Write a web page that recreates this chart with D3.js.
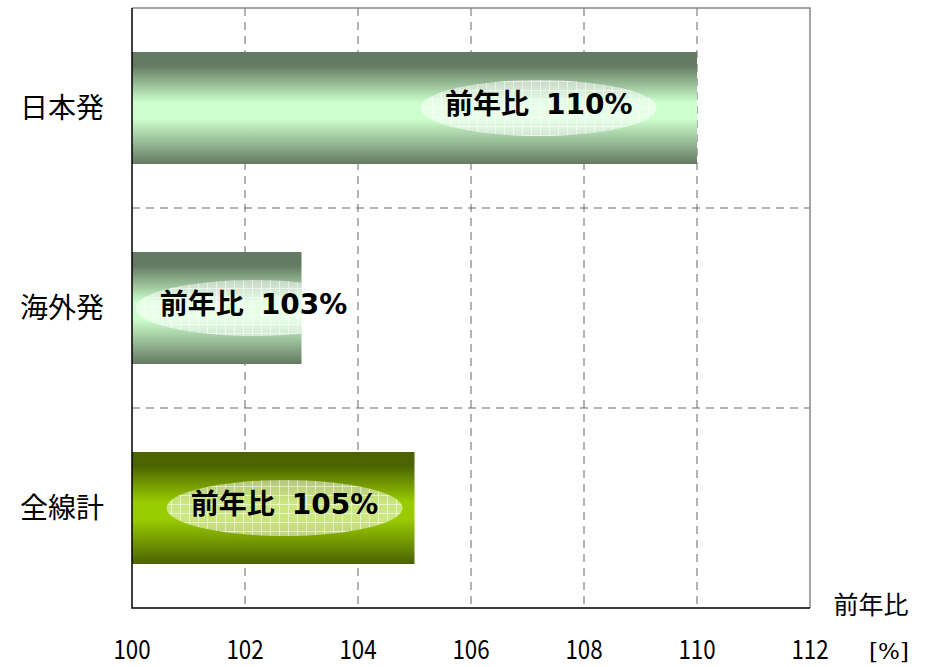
<!DOCTYPE html>
<html>
<head>
<meta charset="utf-8">
<script src="https://cdn.jsdelivr.net/npm/d3@7"></script>
<style>
  body { margin: 0; background: #fff; }
  text { font-family: "Noto Sans CJK JP", sans-serif; }
</style>
</head>
<body>
<div id="chart"></div>
<script>
// データ
const categories = ["日本発", "海外発", "全線計"];
const values = [110, 103, 105];
const labelAt = [107.2, 102.15, 102.7]; // ラベル位置(前年比の単位)
const xTicks = [100, 102, 104, 106, 108, 110, 112];

const WIDTH = 928;
const HEIGHT = 667;
const MARGIN = { top: 8, left: 132, right: 118, bottom: 59 };

const SVG = d3.select("#chart").append("svg")
  .attr("width", WIDTH)
  .attr("height", HEIGHT);

const x = d3.scaleLinear()
  .domain([100, 112])
  .range([MARGIN.left, WIDTH - MARGIN.right]);

const y = d3.scaleBand()
  .domain(categories)
  .range([MARGIN.top, HEIGHT - MARGIN.bottom])
  .paddingInner(0.44)
  .paddingOuter(0.22);

const defs = SVG.append("defs");

function addGradient(id, edge, mid) {
  const g = defs.append("linearGradient")
    .attr("id", id)
    .attr("x1", 0).attr("y1", 0).attr("x2", 0).attr("y2", 1);
  g.append("stop").attr("offset", "0%").attr("stop-color", edge);
  g.append("stop").attr("offset", "12%").attr("stop-color", edge);
  g.append("stop").attr("offset", "45%").attr("stop-color", mid);
  g.append("stop").attr("offset", "60%").attr("stop-color", mid);
  g.append("stop").attr("offset", "100%").attr("stop-color", edge);
}
addGradient("grad-green", "#647a62", "#ccffcc");
addGradient("grad-lime", "#4b6300", "#99cc00");

// 楕円の格子模様
const pat = defs.append("pattern")
  .attr("id", "grid")
  .attr("width", 9).attr("height", 9)
  .attr("patternUnits", "userSpaceOnUse");
pat.append("rect").attr("width", 9).attr("height", 9)
  .attr("fill", "#fff").attr("fill-opacity", 0.5);
pat.append("path").attr("d", "M0,0.5H9M0.5,0V9")
  .attr("stroke", "#fff").attr("stroke-opacity", 0.55).attr("stroke-width", 1);

const plotTop = MARGIN.top;
const plotBottom = HEIGHT - MARGIN.bottom;

// 縦グリッド(破線)
SVG.append("g")
  .selectAll("line")
  .data(xTicks.slice(1, -1))
  .enter()
  .append("line")
  .attr("x1", d => x(d)).attr("x2", d => x(d))
  .attr("y1", plotTop).attr("y2", plotBottom)
  .attr("stroke", "#666")
  .attr("stroke-dasharray", "8,6");

// 横グリッド(区切り)
const bounds = categories.slice(1).map(c => y(c) - y.step() * y.paddingInner() / 2);
SVG.append("g")
  .selectAll("line")
  .data(bounds)
  .enter()
  .append("line")
  .attr("x1", x(100)).attr("x2", x(112))
  .attr("y1", d => d).attr("y2", d => d)
  .attr("stroke", "#666")
  .attr("stroke-dasharray", "8,6");

// 外枠(上・右)
SVG.append("path")
  .attr("d", `M${x(100)},${plotTop}H${x(112)}V${plotBottom}`)
  .attr("fill", "none")
  .attr("stroke", "#888")
  .attr("stroke-width", 1.5);

// 棒
const bars = SVG.append("g")
  .selectAll("g")
  .data(categories)
  .enter()
  .append("g");

bars.append("clipPath")
  .attr("id", (d, i) => "clip" + i)
  .append("rect")
  .attr("x", x(100))
  .attr("y", d => y(d))
  .attr("width", (d, i) => x(values[i]) - x(100))
  .attr("height", y.bandwidth());

bars.append("rect")
  .attr("x", x(100))
  .attr("y", d => y(d))
  .attr("width", (d, i) => x(values[i]) - x(100))
  .attr("height", y.bandwidth())
  .attr("fill", (d, i) => i === 2 ? "url(#grad-lime)" : "url(#grad-green)");

bars.append("ellipse")
  .attr("clip-path", (d, i) => `url(#clip${i})`)
  .attr("cx", (d, i) => x(labelAt[i]))
  .attr("cy", d => y(d) + y.bandwidth() / 2)
  .attr("rx", 118)
  .attr("ry", 28)
  .attr("fill", "url(#grid)");

const lbl = bars.append("text")
  .attr("x", (d, i) => x(labelAt[i]))
  .attr("y", d => y(d) + y.bandwidth() / 2)
  .attr("dy", "0.38em")
  .attr("text-anchor", "middle")
  .attr("font-weight", "bold")
  .attr("fill", "#000");
lbl.append("tspan")
  .attr("font-size", 28)
  .text("前年比");
lbl.append("tspan")
  .attr("dx", 17)
  .attr("font-size", 28)
  .style("font-family", "'DejaVu Sans', sans-serif")
  .text((d, i) => `${values[i]}%`);

// 軸線
SVG.append("path")
  .attr("d", `M${x(100)},${plotTop}V${plotBottom}H${x(112)}`)
  .attr("fill", "none")
  .attr("stroke", "#000")
  .attr("stroke-width", 1.5);

// カテゴリラベル
SVG.append("g")
  .selectAll("text")
  .data(categories)
  .enter()
  .append("text")
  .attr("x", 62)
  .attr("y", d => y(d) + y.bandwidth() / 2)
  .attr("dy", "0.36em")
  .attr("text-anchor", "middle")
  .attr("font-size", 28)
  .text(d => d);

// 目盛ラベル
SVG.append("g")
  .selectAll("text")
  .data(xTicks)
  .enter()
  .append("text")
  .attr("transform", d => `translate(${x(d)},659) scale(0.86,1)`)
  .attr("text-anchor", "middle")
  .attr("font-size", 26)
  .text(d => d);

SVG.append("text")
  .attr("x", 871)
  .attr("y", 605)
  .attr("dy", "0.36em")
  .attr("text-anchor", "middle")
  .attr("font-size", 25)
  .text("前年比");

SVG.append("text")
  .attr("x", 889)
  .attr("y", 659)
  .attr("text-anchor", "middle")
  .attr("font-size", 23)
  .style("font-family", "'DejaVu Serif', serif")
  .text("[%]");
</script>
</body>
</html>
